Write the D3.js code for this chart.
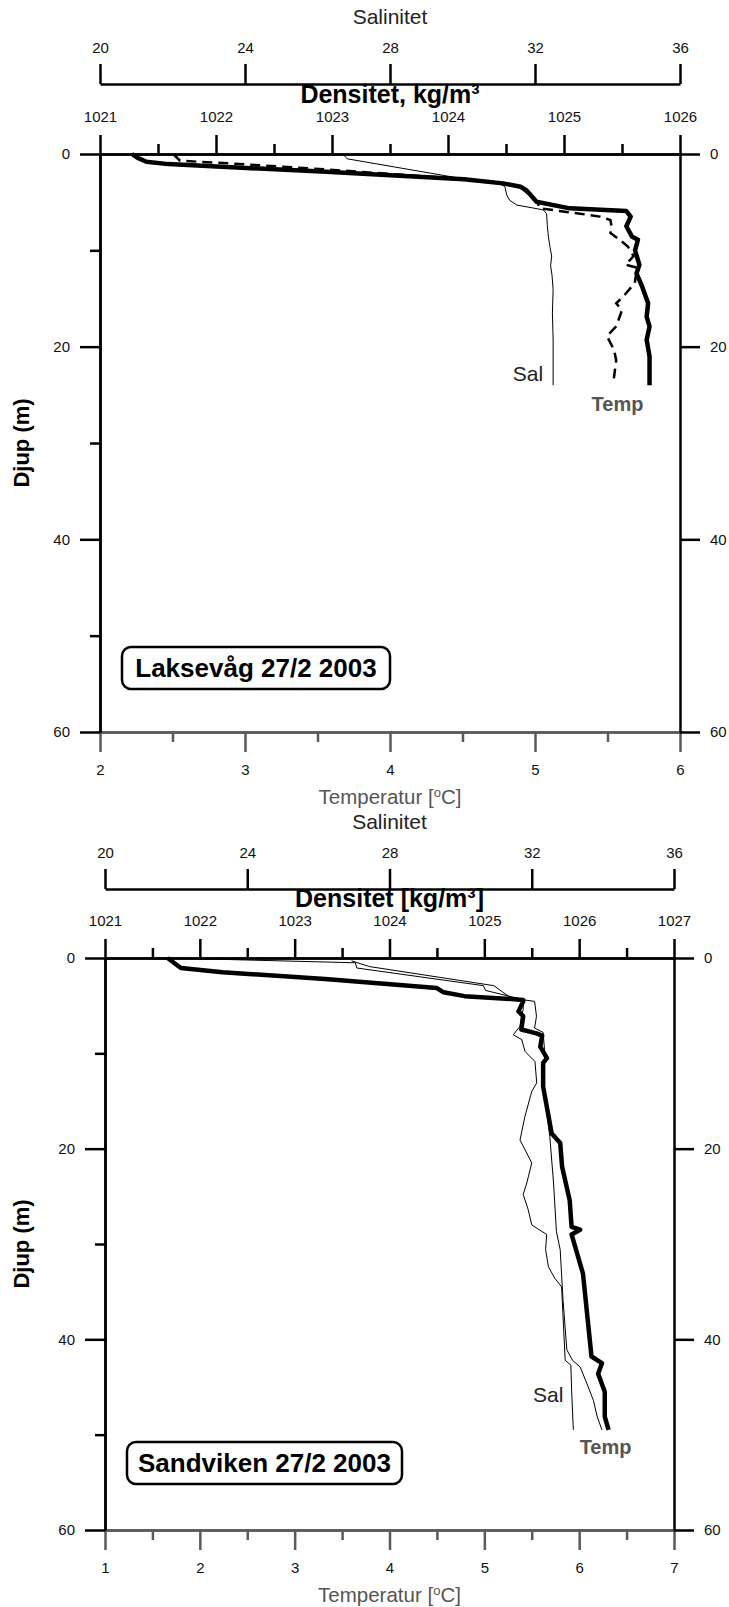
<!DOCTYPE html>
<html>
<head>
<meta charset="utf-8">
<script src="https://cdn.jsdelivr.net/npm/d3@7"></script>
<style>
body { margin: 0; background: #fff; }
svg text { font-family: "Liberation Sans", Arial, sans-serif; }
</style>
</head>
<body>
<svg id="chart" width="729" height="1607"></svg>
<script>

//////// tick values
var salTicks = [20, 24, 28, 32, 36];
var depthTicks = [0, 20, 40, 60];
var depthMinor = [10, 30, 50];

var lakTempTicks = [2, 3, 4, 5, 6];
var lakTempMinor = [2.5, 3.5, 4.5, 5.5];
var lakDensTicks = [1021, 1022, 1023, 1024, 1025, 1026];
var lakDensMinor = [1021.5, 1022.5, 1023.5, 1024.5, 1025.5];

var sanTempTicks = [1, 2, 3, 4, 5, 6, 7];
var sanTempMinor = [1.5, 2.5, 3.5, 4.5, 5.5, 6.5];
var sanDensTicks = [1021, 1022, 1023, 1024, 1025, 1026, 1027];
var sanDensMinor = [1021.5, 1022.5, 1023.5, 1024.5, 1025.5, 1026.5];

//////// Laksevåg 27/2 2003   [djup, verdi]
var lakTemp = [[0, 2.22], [0.4, 2.26], [0.8, 2.32], [1.05, 2.47], [1.85, 3.56], [2.63, 4.51],
  [3.05, 4.78], [3.4, 4.90], [3.75, 4.94], [4.26, 4.97], [4.95, 5.01], [5.64, 5.24],
  [5.92, 5.63], [6.5, 5.66], [7.5, 5.63], [8.6, 5.67], [8.9, 5.71], [10.0, 5.69],
  [11.5, 5.72], [12.4, 5.70], [13.8, 5.74], [15.5, 5.78], [16.9, 5.77], [17.9, 5.79],
  [19.3, 5.77], [21.0, 5.79], [24.0, 5.79]];

var lakSal = [[0, 26.70], [0.5, 26.82], [2.6, 30.06], [3.05, 31.0], [3.39, 31.17],
  [4.26, 31.22], [4.8, 31.3], [5.3, 31.5], [5.8, 32.23], [6.2, 32.32], [7.4, 32.34],
  [8.6, 32.37], [9.6, 32.41], [10.6, 32.46], [11.6, 32.43], [12.6, 32.47], [14.1, 32.5],
  [16.5, 32.48], [19.3, 32.5], [24.0, 32.5]];

var lakDens = [[0, 1021.63], [0.7, 1021.69], [1.0, 1022.15], [1.6, 1022.94], [2.6, 1024.14],
  [3.05, 1024.47], [3.4, 1024.62], [4.3, 1024.71], [5.0, 1024.77], [5.64, 1024.79],
  [6.2, 1025.14], [6.5, 1025.31], [6.85, 1025.40], [7.5, 1025.41], [8.2, 1025.40],
  [8.9, 1025.48], [9.6, 1025.55], [10.6, 1025.60], [11.5, 1025.53], [11.8, 1025.63],
  [13.4, 1025.61], [14.8, 1025.51], [15.5, 1025.45], [16.2, 1025.50], [17.9, 1025.45],
  [18.9, 1025.37], [20.3, 1025.43], [21.4, 1025.45], [23.3, 1025.43]];

//////// Sandviken 27/2 2003
var sanTemp = [[0, 1.66], [1.05, 1.80], [1.5, 2.24], [2.2, 3.32], [3.15, 4.50], [3.6, 4.57],
  [4.0, 4.79], [4.3, 5.28], [4.4, 5.41], [4.55, 5.41], [5.6, 5.36], [6.1, 5.41],
  [7.5, 5.39], [7.9, 5.55], [8.15, 5.61], [9.3, 5.59], [10.5, 5.66], [11.0, 5.62],
  [13.5, 5.62], [18.4, 5.71], [19.4, 5.80], [21.9, 5.82], [25.4, 5.90], [28.2, 5.92],
  [28.5, 6.01], [29.0, 5.92], [33.1, 6.04], [41.8, 6.13], [42.5, 6.24], [43.6, 6.20],
  [45.5, 6.27], [48.1, 6.27], [49.5, 6.31]];

var sanSal = [[0, 21.77], [0.5, 27.04], [1.05, 27.08], [2.9, 30.64], [3.4, 30.70],
  [4.37, 31.76], [5.42, 31.76], [5.95, 31.72], [7.17, 31.67], [8.05, 31.48], [8.57, 31.72],
  [9.8, 31.81], [10.85, 32.09], [13.1, 32.14], [14.0, 32.0], [16.6, 31.81], [19.1, 31.67],
  [20.1, 31.81], [21.5, 32.0], [23.6, 31.86], [24.8, 31.76], [26.4, 31.9], [28.0, 32.0],
  [29.0, 32.42], [30.6, 32.39], [32.4, 32.47], [33.6, 32.65], [34.5, 32.84], [42.2, 32.94],
  [42.7, 33.10], [45.3, 33.12], [49.5, 33.17]];

var sanDens = [[0.3, 1023.60], [0.9, 1023.79], [2.9, 1025.10], [4.2, 1025.28], [4.55, 1025.53],
  [6.1, 1025.55], [7.35, 1025.53], [7.8, 1025.62], [10.3, 1025.64], [13.1, 1025.62],
  [18.7, 1025.69], [23.6, 1025.73], [28.7, 1025.76], [30.6, 1025.80], [35.9, 1025.83],
  [41.1, 1025.87], [42.2, 1025.93], [42.9, 1026.01], [44.6, 1026.08], [46.4, 1026.15],
  [48.1, 1026.19], [49.5, 1026.24]];


var svg = d3.select("#chart");
var grey = "#5a5a5a";


function styleAxis(g, col, fs) {
  g.selectAll(".domain").attr("stroke", col).attr("stroke-width", 2.5);
  g.selectAll(".tick line").attr("stroke", col).attr("stroke-width", 2.5);
  g.selectAll(".tick text").attr("fill", "#111").style("font-size", fs + "px")
    .style("font-family", "'Liberation Sans', Arial, sans-serif");
}


function drawPanel(p) {

  var xc = (p.x0 + p.x1) / 2;

  var temp = d3.scaleLinear().domain(p.tempDom).range([p.x0, p.x1]);
  var dens = d3.scaleLinear().domain(p.densDom).range([p.x0, p.x1]);
  var sal = d3.scaleLinear().domain([20, 36]).range([p.x0, p.x1]);
  var depth = d3.scaleLinear().domain([0, 60]).range([p.y0, p.y1]);

  ////////  salinitet
  svg.append("text").attr("x", xc).attr("y", p.salY - 60)
    .attr("text-anchor", "middle").attr("fill", "#222").style("font-size", "21px")
    .text("Salinitet");

  var gs = svg.append("g").attr("transform", "translate(0," + p.salY + ")")
    .call(d3.axisTop(sal).tickValues(salTicks).tickSize(20).tickPadding(11).tickSizeOuter(0));
  styleAxis(gs, "#000", 15);

  ////////  densitet
  var gd2 = svg.append("g").attr("transform", "translate(0," + p.y0 + ")")
    .call(d3.axisTop(dens).tickValues(p.densMinor).tickSize(10).tickFormat("").tickSizeOuter(0));
  styleAxis(gd2, "#000", 15);

  var gd = svg.append("g").attr("transform", "translate(0," + p.y0 + ")")
    .call(d3.axisTop(dens).tickValues(p.densTicks).tickSize(19).tickPadding(13)
      .tickFormat(d3.format("d")).tickSizeOuter(0));
  styleAxis(gd, "#000", 15);

  svg.append("text").attr("x", xc).attr("y", p.y0 - 51)
    .attr("text-anchor", "middle").attr("fill", "#000")
    .style("font-size", "25px").style("font-weight", "bold")
    .text(p.densTitle);

  ////////  temperatur
  var gt2 = svg.append("g").attr("transform", "translate(0," + p.y1 + ")")
    .call(d3.axisBottom(temp).tickValues(p.tempMinor).tickSize(10).tickFormat("").tickSizeOuter(0));
  styleAxis(gt2, grey, 15);

  var gt = svg.append("g").attr("transform", "translate(0," + p.y1 + ")")
    .call(d3.axisBottom(temp).tickValues(p.tempTicks).tickSize(20).tickPadding(12)
      .tickFormat(d3.format("d")).tickSizeOuter(0));
  styleAxis(gt, grey, 15);

  var tt = svg.append("text").attr("x", xc).attr("y", p.y1 + 72)
    .attr("text-anchor", "middle").attr("fill", "#555").style("font-size", "20.5px");
  tt.append("tspan").text("Temperatur [");
  tt.append("tspan").attr("baseline-shift", "super").style("font-size", "13px").text("o");
  tt.append("tspan").text("C]");

  ////////  djup
  var gl2 = svg.append("g").attr("transform", "translate(" + p.x0 + ",0)")
    .call(d3.axisLeft(depth).tickValues(depthMinor).tickSize(10).tickFormat("").tickSizeOuter(0));
  styleAxis(gl2, "#000", 15);

  var gl = svg.append("g").attr("transform", "translate(" + p.x0 + ",0)")
    .call(d3.axisLeft(depth).tickValues(depthTicks).tickSize(20).tickPadding(10).tickSizeOuter(0));
  styleAxis(gl, "#000", 15);

  var gr = svg.append("g").attr("transform", "translate(" + p.x1 + ",0)")
    .call(d3.axisRight(depth).tickValues(depthTicks).tickSize(20).tickPadding(10).tickSizeOuter(0));
  styleAxis(gr, "#000", 15);

  svg.append("text")
    .attr("transform", "translate(29," + ((p.y0 + p.y1) / 2) + ") rotate(-90)")
    .attr("text-anchor", "middle").attr("fill", "#000")
    .style("font-size", "22px").style("font-weight", "bold")
    .text("Djup (m)");

  ////////  profiler
  var lineT = d3.line().x(function(d) { return temp(d[1]); }).y(function(d) { return depth(d[0]); });
  var lineS = d3.line().x(function(d) { return sal(d[1]); }).y(function(d) { return depth(d[0]); });
  var lineD = d3.line().x(function(d) { return dens(d[1]); }).y(function(d) { return depth(d[0]); });

  svg.append("path").datum(p.sal).attr("d", lineS)
    .attr("fill", "none").attr("stroke", "#000").attr("stroke-width", 1);

  var pd = svg.append("path").datum(p.dens).attr("d", lineD)
    .attr("fill", "none").attr("stroke", "#000");
  if (p.dashed) {
    pd.attr("stroke-width", 2.5).attr("stroke-dasharray", "10,6");
  } else {
    pd.attr("stroke-width", 1);
  }

  svg.append("path").datum(p.temp).attr("d", lineT)
    .attr("fill", "none").attr("stroke", "#000").attr("stroke-width", 4.5)
    .attr("stroke-linejoin", "round");

  ////////  etiketter
  var sEnd = p.sal[p.sal.length - 1];
  svg.append("text").attr("x", sal(sEnd[1]) - 10).attr("y", depth(p.salLabDepth) + 7.5)
    .attr("text-anchor", "end").attr("fill", "#222").style("font-size", "21px")
    .text("Sal");

  var tEnd = p.temp[p.temp.length - 1];
  svg.append("text").attr("x", temp(tEnd[1]) - p.tempLabOff).attr("y", depth(p.tempLabDepth) + 7.5)
    .attr("text-anchor", "middle").attr("fill", "#555")
    .style("font-size", "20px").style("font-weight", "bold")
    .text("Temp");

  ////////  boks
  var bx = p.x0 + p.boxDx, by = p.y1 - p.boxDy;
  svg.append("rect").attr("x", bx).attr("y", by).attr("width", p.boxW).attr("height", 42)
    .attr("rx", 9).attr("fill", "#fff").attr("stroke", "#000").attr("stroke-width", 2.5);
  svg.append("text").attr("x", bx + p.boxW / 2).attr("y", by + 30)
    .attr("text-anchor", "middle").attr("fill", "#000")
    .style("font-size", "26px").style("font-weight", "bold")
    .text(p.place);
}


drawPanel({
  x0: 100, x1: 680, y0: 154, y1: 732, salY: 84,
  tempDom: [2, 6], densDom: [1021, 1026],
  tempTicks: lakTempTicks, tempMinor: lakTempMinor,
  densTicks: lakDensTicks, densMinor: lakDensMinor,
  densTitle: "Densitet, kg/m³",
  temp: lakTemp, sal: lakSal, dens: lakDens, dashed: true,
  salLabDepth: 22.8, tempLabDepth: 25.9, tempLabOff: 32,
  place: "Laksevåg 27/2 2003", boxDx: 22, boxDy: 85, boxW: 268
});

drawPanel({
  x0: 105, x1: 674, y0: 958, y1: 1530, salY: 889,
  tempDom: [1, 7], densDom: [1021, 1027],
  tempTicks: sanTempTicks, tempMinor: sanTempMinor,
  densTicks: sanDensTicks, densMinor: sanDensMinor,
  densTitle: "Densitet [kg/m³]",
  temp: sanTemp, sal: sanSal, dens: sanDens, dashed: false,
  salLabDepth: 45.8, tempLabDepth: 51.2, tempLabOff: 3,
  place: "Sandviken 27/2 2003", boxDx: 22, boxDy: 88, boxW: 275
});

</script>
</body>
</html>
